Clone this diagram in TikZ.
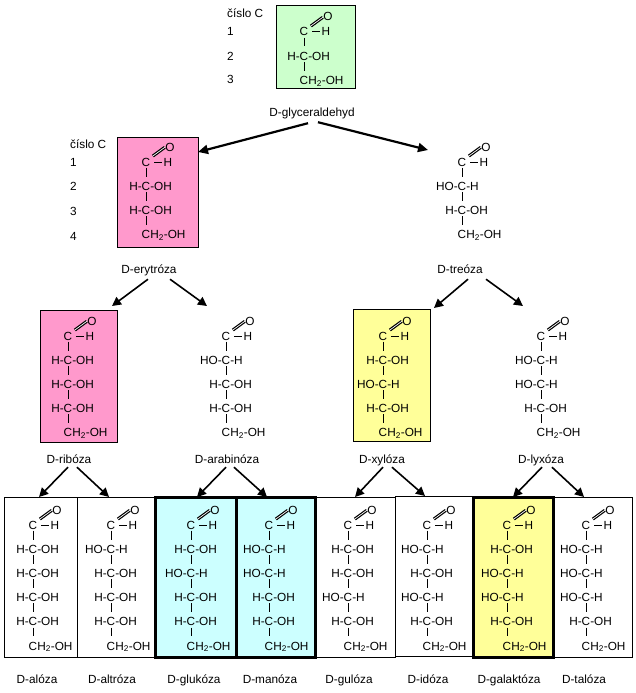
\documentclass[tikz,border=0pt]{standalone}
\usepackage{fontspec}
\setmainfont{Liberation Sans}
\usetikzlibrary{arrows.meta}
\definecolor{glycgreen}{HTML}{CCFFCC}
\definecolor{rowpink}{HTML}{FF99CC}
\definecolor{rowyellow}{HTML}{FFFF99}
\definecolor{rowcyan}{HTML}{CCFFFF}
\newcommand{\rowR}{\llap{H-}C\rlap{-OH}}
\newcommand{\rowL}{\llap{HO-}C\rlap{-H}}
\newcommand{\rowE}{C\rlap{H\textsubscript{2}-OH}}
% name, x of the C column, y of the first row, rows below it
\newcommand{\fischer}[4]{
  \node[atom] (#1-c1) at (#2,#3) {C};
  \node[atom] (#1-h) at (#2+22,#3) {H};
  \node[atom] (#1-o) at (#2+24,#3-15) {O};
  \draw[bond,shorten <=4pt,shorten >=2pt] (#1-c1) -- (#1-h);
  \draw[oxo] (#1-c1.north east) -- (#1-o.west);
  \foreach \row [count=\i from 2, evaluate=\i as \k using int(\i-1)] in {#4} {
    \node[atom] (#1-c\i) at (#2,#3+24.2*\k) {\csname row\row\endcsname};
    \draw[bond,shorten <=1.5pt,shorten >=5.5pt] (#1-c\k) -- (#1-c\i);
  }
}
\begin{document}
\begin{tikzpicture}[
  x=1pt, y=-1pt,
  every node/.style={font=\fontsize{11.8}{13}\selectfont},
  atom/.style={font=\fontsize{11.8}{13}\selectfont, inner sep=0pt, text height=8pt, text depth=0pt},
  sugarname/.style={inner sep=0pt, text height=8pt, text depth=2pt},
  carbonno/.style={anchor=west, inner sep=0pt, text height=8pt, text depth=0pt},
  box/.style={draw, inner sep=0pt, outer sep=0pt, line width=0.9pt},
  heavybox/.style={box, line width=3pt},
  bond/.style={line width=1pt},
  oxo/.style={double, double distance=0.7pt, line width=1.2pt, shorten <=3pt, shorten >=0.5pt},
  arrow/.style={-{Triangle[length=9pt,width=9pt]}, line width=1.6pt},
  bigarrow/.style={-{Triangle[length=10pt,width=9pt]}, line width=2.2pt}
]
\useasboundingbox (0,0) rectangle (635,693);

% boxes
\node[box, fill=glycgreen, minimum width=79pt, minimum height=83pt] (glyceraldehyd) at (315.5,46.5) {};
\node[box, fill=rowpink, minimum width=81pt, minimum height=110pt] (erytroza) at (157.5,192) {};
\node[box, fill=rowpink, minimum width=77pt, minimum height=132pt] (riboza) at (78.5,376) {};
\node[box, fill=rowyellow, minimum width=77pt, minimum height=132pt] (xyloza) at (391.5,375) {};
\node[box, minimum width=73pt, minimum height=160pt] (aloza) at (40.5,577) {};
\node[box, minimum width=78pt, minimum height=160pt] (altroza) at (116,577) {};
\node[box, minimum width=79pt, minimum height=160pt] (guloza) at (355.5,577) {};
\node[box, minimum width=78pt, minimum height=160pt] (idoza) at (434,576) {};
\node[box, minimum width=79pt, minimum height=160pt] (taloza) at (592.5,577) {};
\node[heavybox, fill=rowcyan, minimum width=81pt, minimum height=160pt] (glukoza) at (196,577) {};
\node[heavybox, fill=rowcyan, minimum width=79pt, minimum height=160pt] (manoza) at (276,577) {};
\node[heavybox, fill=rowyellow, minimum width=80pt, minimum height=160pt] (galaktoza) at (513,577) {};

% free arrow ends
\coordinate (treoza) at (428,150);
\coordinate (arabinoza) at (207,306);
\coordinate (lyxoza) at (523,306);

% structures
\fischer{s3}{304}{32}{R,E}
\fischer{s4a}{146}{162}{R,R,E}
\fischer{s4b}{462}{162}{L,R,E}
\fischer{s5a}{68}{336}{R,R,R,E}
\fischer{s5b}{226}{336}{L,R,R,E}
\fischer{s5c}{383}{336}{R,L,R,E}
\fischer{s5d}{541}{336}{L,L,R,E}
\fischer{s6a}{33}{525}{R,R,R,R,E}
\fischer{s6b}{111}{525}{L,R,R,R,E}
\fischer{s6c}{191}{525}{R,L,R,R,E}
\fischer{s6d}{269}{525}{L,L,R,R,E}
\fischer{s6e}{348}{525}{R,R,L,R,E}
\fischer{s6f}{427}{525}{L,R,L,R,E}
\fischer{s6g}{507}{525}{R,L,L,R,E}
\fischer{s6h}{586}{525}{L,L,L,R,E}

% carbon numbers
\node[carbonno] (cisloa) at (227,14) {číslo C};
\node[carbonno] (na1) at (227,32) {1};
\node[carbonno] (na2) at (227,56) {2};
\node[carbonno] (na3) at (227,79) {3};
\node[carbonno] (ciselb) at (70,144) {číslo C};
\node[carbonno] (nb1) at (70,162) {1};
\node[carbonno] (nb2) at (70,186) {2};
\node[carbonno] (nb3) at (70,211) {3};
\node[carbonno] (nb4) at (70,236) {4};

% names
\node[sugarname] (lglyceraldehyd) at (312,113) {D-glyceraldehyd};
\node[sugarname] (lerytroza) at (149,270) {D-erytróza};
\node[sugarname] (ltreoza) at (460,270) {D-treóza};
\node[sugarname] (lriboza) at (69,460) {D-ribóza};
\node[sugarname] (larabinoza) at (227,460) {D-arabinóza};
\node[sugarname] (lxyloza) at (382,460) {D-xylóza};
\node[sugarname] (llyxoza) at (541,460) {D-lyxóza};
\node[sugarname] (laloza) at (37,680) {D-alóza};
\node[sugarname] (laltroza) at (112,680) {D-altróza};
\node[sugarname] (lglukoza) at (194,680) {D-glukóza};
\node[sugarname] (lmanoza) at (270,680) {D-manóza};
\node[sugarname] (lguloza) at (349,680) {D-gulóza};
\node[sugarname] (lidoza) at (428,680) {D-idóza};
\node[sugarname] (lgalaktoza) at (509,680) {D-galaktóza};
\node[sugarname] (ltaloza) at (584,680) {D-talóza};

% arrows
\draw[bigarrow] ([xshift=-4pt,yshift=-5pt]lglyceraldehyd.south) -- ([yshift=-15pt]erytroza.north east);
\draw[bigarrow] ([xshift=6pt,yshift=-4pt]lglyceraldehyd.south) -- (treoza);
\draw[arrow] ([xshift=-1pt,yshift=-4pt]lerytroza.south) -- ([shift={(-5pt,4pt)}]riboza.north east);
\draw[arrow] ([xshift=21pt,yshift=-4pt]lerytroza.south) -- (arabinoza);
\draw[arrow] ([xshift=8pt,yshift=-4pt]ltreoza.south) -- ([shift={(4pt,1pt)}]xyloza.north east);
\draw[arrow] ([xshift=26pt,yshift=-4pt]ltreoza.south) -- (lyxoza);
\draw[arrow] ([xshift=-1pt,yshift=-2pt]lriboza.south) -- ([xshift=-1.5pt]aloza.north);
\draw[arrow] ([xshift=8pt,yshift=-2pt]lriboza.south) -- ([xshift=-7pt]altroza.north);
\draw[arrow] ([xshift=-1pt,yshift=-2pt]larabinoza.south) -- ([xshift=1pt]glukoza.north);
\draw[arrow] ([xshift=7pt,yshift=-2pt]larabinoza.south) -- ([xshift=-9pt]manoza.north);
\draw[arrow] ([xshift=1pt,yshift=-2pt]lxyloza.south) -- ([xshift=-0.5pt]guloza.north);
\draw[arrow] ([xshift=10pt,yshift=-2pt]lxyloza.south) -- ([xshift=-9pt]idoza.north);
\draw[arrow] ([xshift=1pt,yshift=-2pt]llyxoza.south) -- (galaktoza.north);
\draw[arrow] ([xshift=11pt,yshift=-2pt]llyxoza.south) -- ([xshift=-8.5pt]taloza.north);
\end{tikzpicture}
\end{document}
